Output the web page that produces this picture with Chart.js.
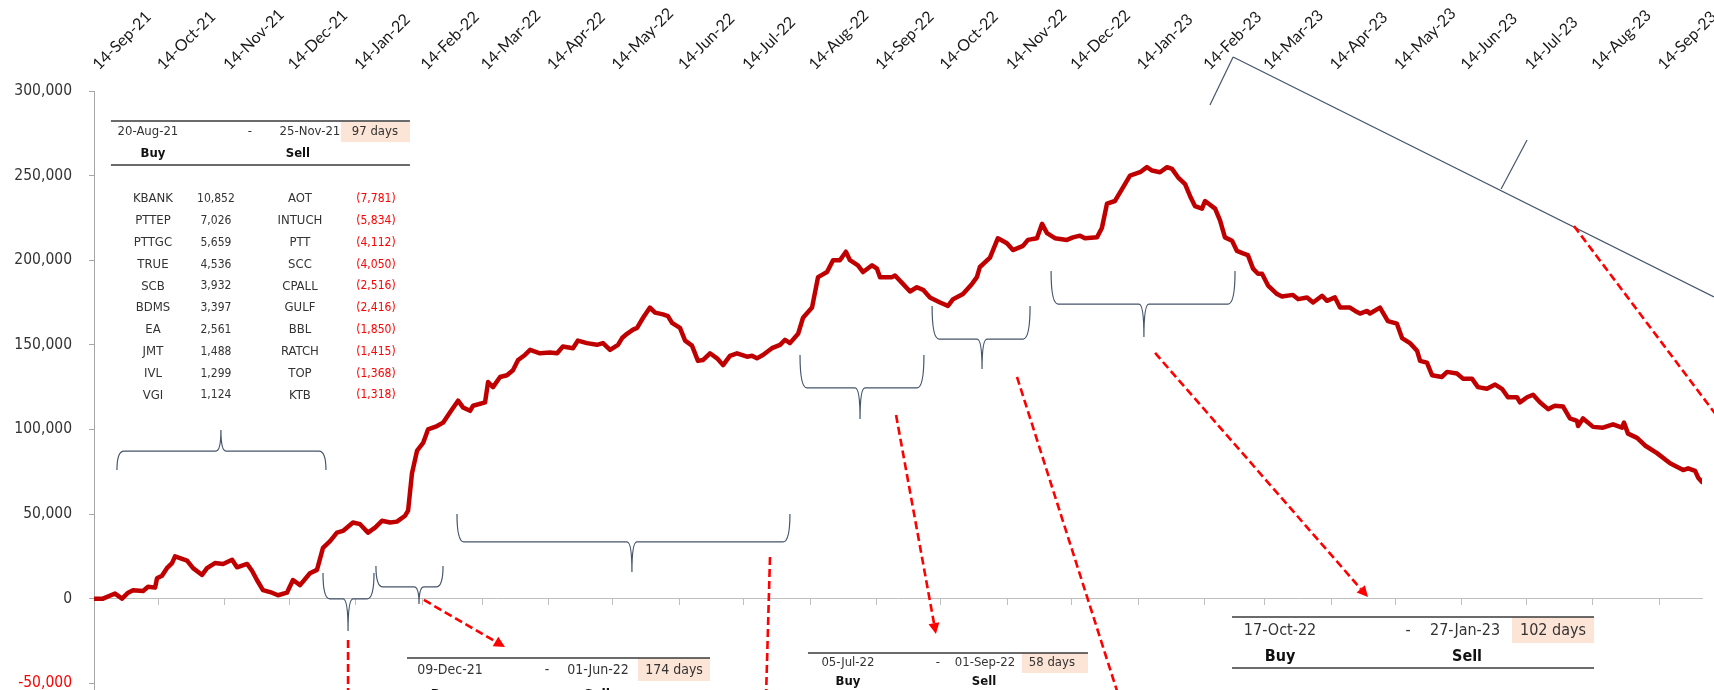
<!DOCTYPE html>
<html>
<head>
<meta charset="utf-8">
<script src="https://cdn.jsdelivr.net/npm/chart.js@4.4.1/dist/chart.umd.min.js"></script>
<style>
html,body{margin:0;padding:0;background:#fff;overflow:hidden}
#wrap{width:1714px;height:690px;position:relative}
</style>
</head>
<body>
<div id="wrap"><canvas id="c" width="1714" height="690"></canvas></div>
<script>
// ---------------- DATA ----------------
const monthTickLabels = ['14-Sep-21','14-Oct-21','14-Nov-21','14-Dec-21','14-Jan-22','14-Feb-22','14-Mar-22','14-Apr-22','14-May-22','14-Jun-22','14-Jul-22','14-Aug-22','14-Sep-22','14-Oct-22','14-Nov-22','14-Dec-22','14-Jan-23','14-Feb-23','14-Mar-23','14-Apr-23','14-May-23','14-Jun-23','14-Jul-23','14-Aug-23','14-Sep-23'];

// days after 14-Sep-21
const dayOffsets = [0,4.2,9.8,13.1,15.9,18.2,22.9,25.2,28.5,29.4,31.7,34.0,36.4,37.8,40.1,43.4,46.2,50.4,52.7,56.4,60.2,64.4,66.7,71.4,73.7,76.0,78.8,83.0,85.8,90.0,92.8,96.1,100.7,104.0,106.8,110.1,113.3,116.1,120.8,124.1,127.8,131.1,134.3,138.1,141.3,145.1,146.5,148.3,150.7,153.5,155.8,160.0,162.8,166.0,169.8,172.1,175.4,176.8,182.4,183.8,186.1,189.4,
192.6,195.4,197.8,201.0,203.4,208.0,212.7,216.0,218.7,223.4,225.7,229.9,234.6,237.4,240.7,244.4,246.3,248.6,251.4,253.3,256.1,259.3,261.7,265.4,267.7,269.6,273.3,275.7,278.9,281.7,284.0,287.3,290.6,293.4,296.6,299.9,304.6,306.9,309.2,312.0,316.2,320.0,322.3,324.6,328.4,330.7,334.9,337.7,341.9,344.7,347.9,350.7,352.6,356.3,358.7,362.9,365.2,366.6,372.2,373.6,377.3,380.6,383.8,
386.7,389.9,394.6,398.3,400.7,405.3,409.5,411.8,413.2,417.9,421.6,425.8,428.6,433.3,435.6,439.8,442.2,444.5,448.2,453.8,456.6,459.9,462.2,467.8,470.1,472.5,476.2,478.5,483.2,487.9,491.1,493.5,497.2,500.5,502.8,505.6,508.9,511.2,513.5,516.8,518.2,522.9,525.2,527.5,530.8,533.1,535.9,538.2,540.6,542.9,544.8,547.6,551.8,554.1,559.2,561.6,
565.8,568.6,572.8,575.1,578.8,581.2,585.8,588.2,590.5,593.8,595.1,599.8,603.5,607.7,610.1,613.8,617.1,618.5,621.7,624.1,628.7,631.1,635.7,638.5,642.7,645.5,649.7,653.5,656.7,659.5,663.7,665.1,668.4,671.2,674.4,678.2,681.4,685.2,688.4,691.7,692.2,694.5,699.2,703.8,708.5,712.7,713.6,715.5,719.7,723.4,729.0,735.1,741.2,743.5,746.8,748.2,750.0];

const pnlValues = [0,0,3000,0,3500,5000,4500,7000,6500,12000,13500,18000,21000,25000,24000,22500,18000,14000,18000,21000,20500,23000,18500,20500,16500,11000,5000,3500,2000,3500,11000,8000,15000,17000,30000,34000,39000,40000,45000,44000,39000,42000,46000,45000,45500,49000,52000,74000,87500,92000,100000,102000,104000,110000,117000,113000,111000,114000,116000,128000,125000,131000,
132000,135000,141000,144000,147000,145000,145500,145000,149000,148000,152500,151000,150000,151000,147000,150000,154000,156500,159000,160000,166000,172000,169000,168000,167000,163000,160000,152500,149500,140500,141000,145000,142000,138000,143500,145000,143000,143500,142000,144000,148000,150000,153000,151000,156500,166000,172000,190000,193000,200000,200000,205000,200000,197000,193000,197000,195000,190000,190000,191000,186000,181500,184000,
182500,178000,175000,173000,177000,180000,186000,190000,196000,201500,213000,210000,206000,208500,212000,213000,221500,216000,213000,212000,213500,214500,213000,213500,219000,233500,235000,240000,250000,252000,255000,253000,252000,255000,254000,249000,245000,238000,232000,230500,235000,230500,223500,213500,211500,205500,204000,203000,195000,192000,192000,185000,180000,178500,179500,177000,
178000,175000,179000,176000,178000,172000,172000,170000,168500,170000,168500,172000,164000,162500,154000,151000,146500,140500,139500,132000,131000,134000,133000,130000,130000,125000,124000,126500,124000,119000,119000,116000,119000,120500,116000,112000,114000,113500,106500,105000,102000,106500,101500,101000,103000,101000,104000,97500,95000,90500,86000,80000,76000,77000,75500,71500,69000];

const yTickValues = [-50000,0,50000,100000,150000,200000,250000,300000];

const buyNames = ['KBANK','PTTEP','PTTGC','TRUE','SCB','BDMS','EA','JMT','IVL','VGI'];
const buyAmounts = [10852,7026,5659,4536,3932,3397,2561,1488,1299,1124];
const sellNames = ['AOT','INTUCH','PTT','SCC','CPALL','GULF','BBL','RATCH','TOP','KTB'];
const sellAmounts = [-7781,-5834,-4112,-4050,-2516,-2416,-1850,-1415,-1368,-1318];

const periodBuyDates = ['20-Aug-21','09-Dec-21','05-Jul-22','17-Oct-22'];
const periodSellDates = ['25-Nov-21','01-Jun-22','01-Sep-22','27-Jan-23'];
const periodDays = [97,174,58,102];

// ---------------- ANNOTATION LAYOUT (data units: day, value) ----------------
const braceShapes = [
  {from:10.7, to:108.2, mid:59.2, end:76000, bar:87200, tip:99600},
  {from:106.8, to:130.6, mid:118.5, end:15100, bar:-200, tip:-19100},
  {from:131.5, to:162.8, mid:151.6, end:19300, bar:6900, tip:-3200},
  {from:169.3, to:324.6, mid:250.9, end:50000, bar:33500, tip:15700},
  {from:329.3, to:387.1, mid:357.3, end:144000, bar:124500, tip:106100},
  {from:390.9, to:436.6, mid:414.2, end:172900, bar:153400, tip:135700},
  {from:446.4, to:532.2, mid:489.7, end:193600, bar:174100, tip:154600}
];
const skewBraceSegments = [
  [[520.5,291700],[531.3,320100]],
  [[531.3,320100],[755.6,178300]],
  [[656.3,242100],[668.4,271000]]
];
const redArrows = [
  {from:[118.5,-24500], to:[118.5,-59900], head:false},
  {from:[153.9,-800], to:[191.7,-28600], head:true},
  {from:[315.3,24600], to:[313.4,-59900], head:false},
  {from:[374.1,108500], to:[392.7,-20900], head:true},
  {from:[430.5,131000], to:[478.5,-59900], head:false},
  {from:[494.9,145200], to:[594.2,900], head:true},
  {from:[690.3,220200], to:[758.4,105500], head:false}
];
const periodTables = [
  {at:[7.9,282200], w:299, fs:13, rowY:11, c1:37, cDash:139, c2:199, boxX:230, boxY:1, boxW:69, boxH:20, daysX:264, buyY:33, buyX:42, sellX:187, bottomRule:44},
  {at:[146.0,-35100], w:303, fs:14, rowY:12, c1:43, cDash:140, c2:191, boxX:231, boxY:0, boxW:72, boxH:23, daysX:267, buyY:37, buyX:37, sellX:190, bottomRule:0},
  {at:[333.0,-32150], w:280, fs:13, rowY:10, c1:40, cDash:130, c2:177, boxX:214, boxY:0, boxW:66, boxH:20, daysX:244, buyY:29, buyX:40, sellX:176, bottomRule:0},
  {at:[530.8,-10900], w:362, fs:16, rowY:14, c1:48, cDash:176, c2:233, boxX:280, boxY:0, boxW:82, boxH:26, daysX:321, buyY:40, buyX:48, sellX:235, bottomRule:51}
];
const stockList = {table:0, top:78, step:21.8, nameX:42, buyX:105, sellNameX:189, sellX:265};

// ---------------- HELPERS ----------------
const MONTHS = {Jan:0,Feb:1,Mar:2,Apr:3,May:4,Jun:5,Jul:6,Aug:7,Sep:8,Oct:9,Nov:10,Dec:11};
function parseDMY(s){ const p = s.split('-'); return Date.UTC(2000 + Number(p[2]), MONTHS[p[1]], Number(p[0])); }
const baseTime = parseDMY(monthTickLabels[0]);
const tickDays = monthTickLabels.map(s => Math.round((parseDMY(s) - baseTime) / 86400000));
const fmt = v => v < 0 ? '(' + Math.abs(v).toLocaleString('en-US') + ')' : v.toLocaleString('en-US');
const tableFont = '"DejaVu Sans Condensed", "DejaVu Sans", sans-serif';

const annotationPlugin = {
  id: 'annotations',
  afterDraw(chart) {
    const ctx = chart.ctx;
    const sx = chart.scales.x, sy = chart.scales.y;
    const px = d => sx.getPixelForValue(d);
    const py = v => sy.getPixelForValue(v);
    ctx.save();

    // curly braces
    ctx.strokeStyle = '#44546a';
    ctx.lineWidth = 1.2;
    ctx.setLineDash([]);
    braceShapes.forEach(b => {
      const x1 = px(b.from), x2 = px(b.to), xm = px(b.mid);
      const ye = py(b.end), yb = py(b.bar), yt = py(b.tip);
      const r = 7, rt = 5;
      ctx.beginPath();
      ctx.moveTo(x1, ye);
      ctx.quadraticCurveTo(x1, yb, x1 + r, yb);
      ctx.lineTo(xm - rt, yb);
      ctx.quadraticCurveTo(xm, yb, xm, yt);
      ctx.quadraticCurveTo(xm, yb, xm + rt, yb);
      ctx.lineTo(x2 - r, yb);
      ctx.quadraticCurveTo(x2, yb, x2, ye);
      ctx.stroke();
    });
    skewBraceSegments.forEach(s => {
      ctx.beginPath();
      ctx.moveTo(px(s[0][0]), py(s[0][1]));
      ctx.lineTo(px(s[1][0]), py(s[1][1]));
      ctx.stroke();
    });

    // red dashed arrows
    ctx.strokeStyle = '#ff0000';
    ctx.fillStyle = '#ff0000';
    ctx.lineWidth = 2.6;
    redArrows.forEach(a => {
      const x1 = px(a.from[0]), y1 = py(a.from[1]);
      const x2 = px(a.to[0]), y2 = py(a.to[1]);
      const ang = Math.atan2(y2 - y1, x2 - x1);
      const hl = 11, hw = 5.5;
      let lx = x2, ly = y2;
      if (a.head) { lx = x2 - Math.cos(ang) * hl; ly = y2 - Math.sin(ang) * hl; }
      ctx.setLineDash([8, 4]);
      ctx.beginPath(); ctx.moveTo(x1, y1); ctx.lineTo(lx, ly); ctx.stroke();
      ctx.setLineDash([]);
      if (a.head) {
        ctx.beginPath();
        ctx.moveTo(x2, y2);
        ctx.lineTo(lx + Math.sin(ang) * hw, ly - Math.cos(ang) * hw);
        ctx.lineTo(lx - Math.sin(ang) * hw, ly + Math.cos(ang) * hw);
        ctx.closePath(); ctx.fill();
      }
    });

    // period tables
    ctx.textAlign = 'center';
    ctx.textBaseline = 'middle';
    periodTables.forEach((t, i) => {
      const x0 = px(t.at[0]), y0 = py(t.at[1]);
      ctx.fillStyle = '#fce4d6';
      ctx.fillRect(x0 + t.boxX, y0 + t.boxY, t.boxW, t.boxH);
      ctx.strokeStyle = '#3a3a3a';
      ctx.lineWidth = 1.5;
      ctx.beginPath(); ctx.moveTo(x0, y0); ctx.lineTo(x0 + t.w, y0); ctx.stroke();
      if (t.bottomRule) { ctx.beginPath(); ctx.moveTo(x0, y0 + t.bottomRule); ctx.lineTo(x0 + t.w, y0 + t.bottomRule); ctx.stroke(); }
      ctx.fillStyle = '#333';
      ctx.font = t.fs + 'px ' + tableFont;
      ctx.fillText(periodBuyDates[i], x0 + t.c1, y0 + t.rowY);
      ctx.fillText('-', x0 + t.cDash, y0 + t.rowY);
      ctx.fillText(periodSellDates[i], x0 + t.c2, y0 + t.rowY);
      ctx.fillText(periodDays[i] + ' days', x0 + t.daysX, y0 + t.rowY);
      ctx.fillStyle = '#111';
      ctx.font = 'bold ' + t.fs + 'px ' + tableFont;
      ctx.fillText('Buy', x0 + t.buyX, y0 + t.buyY);
      ctx.fillText('Sell', x0 + t.sellX, y0 + t.buyY);
    });

    // stock list under first table
    const t0 = periodTables[stockList.table];
    const sx0 = px(t0.at[0]), sy0 = py(t0.at[1]);
    buyNames.forEach((n, i) => {
      const y = sy0 + stockList.top + stockList.step * i;
      ctx.fillStyle = '#333';
      ctx.font = '13px ' + tableFont;
      ctx.fillText(n, sx0 + stockList.nameX, y);
      ctx.fillText(sellNames[i], sx0 + stockList.sellNameX, y);
      ctx.font = '12px ' + tableFont;
      ctx.fillText(fmt(buyAmounts[i]), sx0 + stockList.buyX, y);
      ctx.fillStyle = '#ff0000';
      ctx.fillText(fmt(sellAmounts[i]), sx0 + stockList.sellX, y);
    });
    ctx.restore();
  }
};

// ---------------- CHART ----------------
new Chart(document.getElementById('c'), {
  type: 'line',
  data: {
    datasets: [{
      data: dayOffsets.map((d, i) => ({x: d, y: pnlValues[i]})),
      borderColor: '#c00000',
      borderWidth: 4.5,
      pointRadius: 0,
      tension: 0,
      borderJoinStyle: 'round',
      borderCapStyle: 'round',
      xAxisID: 'x',
      yAxisID: 'y'
    }]
  },
  options: {
    responsive: false,
    animation: false,
    devicePixelRatio: 1,
    layout: {padding: {left: 0, right: 12, top: 0, bottom: 0}},
    plugins: {legend: {display: false}, tooltip: {enabled: false}},
    scales: {
      x: {
        type: 'linear', position: {y: 0}, min: 0, max: 750,
        afterBuildTicks: s => { s.ticks = tickDays.map(v => ({value: v})); },
        afterFit: s => { s.paddingLeft = 0; s.paddingRight = 0; },
        ticks: {display: false},
        grid: {display: true, drawOnChartArea: false, drawTicks: true, tickLength: 6, color: '#bfbfbf', lineWidth: 1},
        border: {display: true, color: '#bfbfbf', width: 1}
      },
      xTop: {
        type: 'linear', axis: 'x', position: 'top', min: 0, max: 750,
        afterBuildTicks: s => { s.ticks = tickDays.map(v => ({value: v})); },
        afterFit: s => { s.height = 91; s.paddingLeft = 0; s.paddingRight = 0; },
        ticks: {
          autoSkip: false, maxRotation: 45, minRotation: 45, padding: 17, labelOffset: 15,
          color: '#1a1a1a', font: {family: 'Lato', size: 16},
          callback: (v, i) => monthTickLabels[i]
        },
        grid: {display: false, drawTicks: false, tickLength: 0},
        border: {display: false}
      },
      y: {
        min: -54000, max: 300000,
        afterBuildTicks: s => { s.ticks = yTickValues.map(v => ({value: v})); },
        afterFit: s => { s.width = 94; s.paddingTop = 0; s.paddingBottom = 0; },
        ticks: {
          padding: 17,
          color: c => (c.tick && c.tick.value < 0) ? '#ff0000' : '#333',
          font: {family: '"DejaVu Sans Condensed", "DejaVu Sans", sans-serif', size: 15.5},
          callback: v => Number(v).toLocaleString('en-US')
        },
        grid: {display: true, drawOnChartArea: false, drawTicks: true, tickLength: 5, color: '#a6a6a6'},
        border: {display: true, color: '#a6a6a6', width: 1}
      }
    }
  },
  plugins: [annotationPlugin]
});
</script>
</body>
</html>
